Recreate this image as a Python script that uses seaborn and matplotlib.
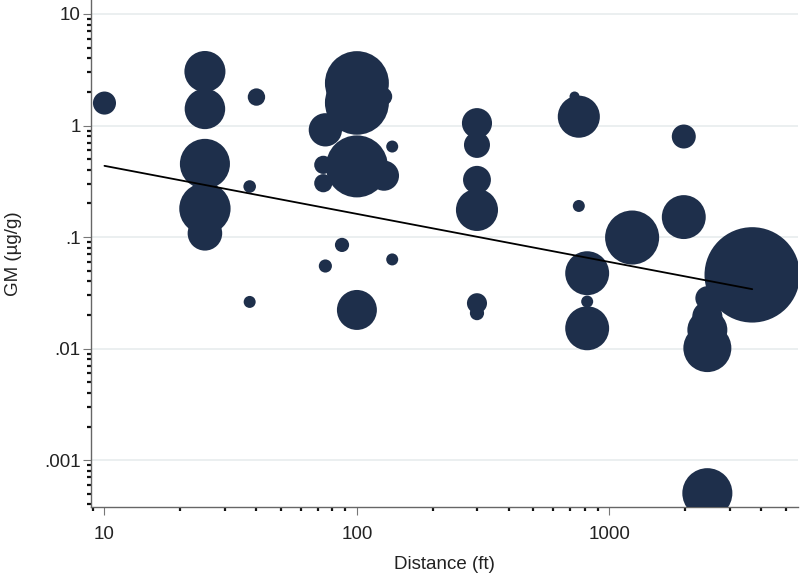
import numpy as np
import pandas as pd
import matplotlib
matplotlib.use("Agg")
import matplotlib.pyplot as plt
import seaborn as sns
from matplotlib.ticker import LogLocator, FixedLocator, FixedFormatter, NullFormatter

# distance (ft), GM (ug/g), weight (bubble area)
distance = [10, 25, 25, 25, 25, 25, 40, 37.6, 37.6,
            100, 100, 127, 75, 138, 100, 73.6, 73.6, 128, 87.3, 75, 138, 100,
            299, 299, 299, 299, 299, 299,
            757, 728, 757, 817, 817, 817, 1231, 1972, 1972,
            2445, 2445, 2445, 2445, 2445, 3681]
gm = [1.59, 3.05, 1.41, 0.453, 0.18, 0.108, 1.8, 0.284, 0.0262,
      2.4, 1.6, 1.82, 0.915, 0.648, 0.43, 0.444, 0.304, 0.355, 0.085, 0.055, 0.063, 0.0222,
      1.05, 0.67, 0.326, 0.175, 0.0255, 0.0208,
      1.2, 1.82, 0.19, 0.0474, 0.0264, 0.0152, 0.099, 0.797, 0.151,
      0.000505, 0.0101, 0.0147, 0.0194, 0.0283, 0.0458]
weight = [3.7, 11.7, 11.4, 17.4, 18.3, 8.3, 2.1, 1.1, 1.0,
          28.4, 28.4, 2.3, 7.7, 1.0, 26.7, 2.3, 2.3, 6.3, 1.4, 1.2, 1.0, 11.1,
          6.3, 4.7, 5.4, 12.3, 2.8, 1.4,
          12.3, 0.7, 1.0, 13.4, 1.0, 13.4, 20.3, 4.0, 13.4,
          17.4, 16.0, 11.1, 6.3, 4.0, 63.2]

# fitted line endpoints (log-log)
fit_x = [10, 3681]
fit_y = [0.435, 0.0341]

y_ticks = [10, 1, 0.1, 0.01, 0.001]
y_labels = ["10", "1", ".1", ".01", ".001"]
x_ticks = [10, 100, 1000]
x_labels = ["10", "100", "1000"]

df = pd.DataFrame({"distance": distance, "gm": gm, "weight": weight})

sns.set_style("white")
plt.rcParams['font.family'] = ['Liberation Sans', 'DejaVu Sans']

fig = plt.figure(figsize=(8, 5.74), dpi=100)
ax = fig.add_axes([0.114, 0.117, 0.884, 0.883])

navy = "#1e2f4b"
wmax = max(weight)
sns.scatterplot(data=df, x="distance", y="gm", size="weight",
                sizes=(0, 74.65 * wmax), size_norm=(0, wmax),
                color=navy, linewidth=0, alpha=1, legend=False, ax=ax, zorder=3)
sns.lineplot(x=fit_x, y=fit_y, color="black", linewidth=1.3, ax=ax, zorder=4)

ax.set_xscale("log")
ax.set_yscale("log")
ax.set_xlim(8.86, 5610)
ax.set_ylim(0.000381, 13.35)

ax.yaxis.set_major_locator(FixedLocator(y_ticks))
ax.yaxis.set_major_formatter(FixedFormatter(y_labels))
ax.xaxis.set_major_locator(FixedLocator(x_ticks))
ax.xaxis.set_major_formatter(FixedFormatter(x_labels))
ax.xaxis.set_minor_locator(LogLocator(base=10, subs=np.arange(2, 10), numticks=20))
ax.yaxis.set_minor_locator(LogLocator(base=10, subs=np.arange(2, 10), numticks=20))
ax.xaxis.set_minor_formatter(NullFormatter())
ax.yaxis.set_minor_formatter(NullFormatter())

ax.tick_params(axis="both", which="both", bottom=True, left=True, top=False, right=False)
ax.tick_params(axis="both", which="major", length=5.5, width=0.8, color="#777777",
               labelsize=13.5, labelcolor="#222222")
ax.tick_params(axis="y", which="major", pad=2)
ax.tick_params(axis="x", which="major", pad=8)
ax.tick_params(axis="both", which="minor", length=2.8, width=1.6, color="#111111")

ax.yaxis.grid(True, which="major", color="#e8ecee", linewidth=1.2, zorder=0)
ax.xaxis.grid(False)
ax.set_axisbelow(True)

for side in ["top", "right"]:
    ax.spines[side].set_visible(False)
for side in ["left", "bottom"]:
    ax.spines[side].set_color("#666666")
    ax.spines[side].set_linewidth(1.0)

ax.set_xlabel("Distance (ft)", fontsize=13.5, color="#222222", labelpad=10)
ax.set_ylabel("GM (µg/g)", fontsize=13.5, color="#222222", labelpad=16)

fig.savefig("out.png", dpi=100)
